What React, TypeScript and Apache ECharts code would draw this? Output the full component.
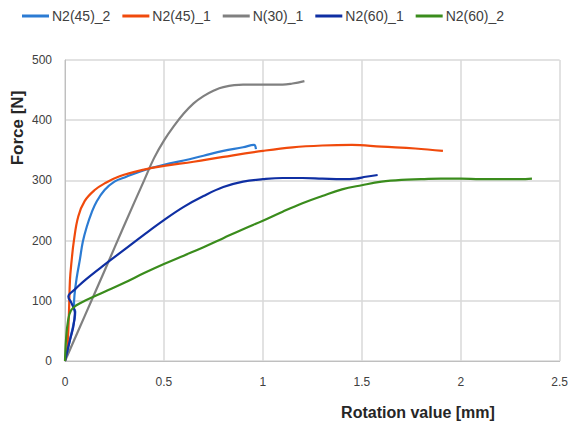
import React, { useEffect, useRef } from "react";
import * as echarts from "echarts";

const seriesNames = ["N2(45)_2", "N2(45)_1", "N(30)_1", "N2(60)_1", "N2(60)_2"];
const seriesColors = ["#2b7bd3", "#f04a0c", "#808080", "#0f2fa3", "#3a8c1c"];

const n245_2: number[][] = [
  [0, 0], [0.025, 35], [0.045, 65], [0.052, 82], [0.045, 88], [0.048, 110], [0.06, 140],
  [0.075, 168], [0.09, 198], [0.11, 223], [0.135, 247], [0.16, 265], [0.2, 284],
  [0.25, 298], [0.31, 306], [0.4, 317], [0.5, 326], [0.6, 333], [0.7, 341],
  [0.8, 349], [0.9, 355], [0.955, 359], [0.965, 352],
];
const n245_1: number[][] = [
  [0, 0], [0.012, 24], [0.02, 80], [0.025, 134], [0.033, 165], [0.045, 200], [0.067, 240],
  [0.1, 266], [0.15, 284], [0.2, 295], [0.276, 307], [0.4, 318], [0.5, 324], [0.65, 331],
  [0.8, 339], [1.0, 349], [1.15, 355], [1.3, 358], [1.45, 359], [1.6, 356],
  [1.77, 353], [1.91, 349],
];
const n30_1: number[][] = [
  [0, 0], [0.1, 75], [0.2, 150], [0.3, 226], [0.4, 300], [0.45, 337], [0.5, 366],
  [0.55, 390], [0.6, 411], [0.65, 428], [0.7, 440], [0.75, 449], [0.8, 455],
  [0.9, 459], [1.0, 459], [1.1, 459], [1.15, 461], [1.21, 465],
];
const n260_1: number[][] = [
  [0, 0], [0.025, 35], [0.042, 57], [0.05, 80], [0.033, 96], [0.017, 107], [0.025, 112],
  [0.05, 119], [0.1, 134], [0.2, 160], [0.3, 185], [0.4, 210], [0.5, 234],
  [0.6, 256], [0.7, 274], [0.8, 289], [0.9, 298], [1.0, 302], [1.1, 304],
  [1.2, 304], [1.3, 303], [1.4, 302], [1.47, 303], [1.52, 306], [1.58, 309],
];
const n260_2: number[][] = [
  [0, 0], [0.005, 35], [0.015, 66], [0.03, 84], [0.06, 93], [0.1, 100], [0.2, 115],
  [0.3, 130], [0.4, 146], [0.5, 161], [0.6, 175], [0.7, 189], [0.8, 204],
  [0.9, 219], [1.0, 233], [1.1, 248], [1.2, 262], [1.3, 274], [1.4, 285],
  [1.5, 292], [1.6, 298], [1.7, 301], [1.8, 302], [1.9, 303], [2.0, 303],
  [2.1, 302], [2.2, 302], [2.3, 302], [2.36, 303],
];
const seriesData = [n245_2, n245_1, n30_1, n260_1, n260_2];

const xTicks = { min: 0, max: 2.5, interval: 0.5 };
const yTicks = { min: 0, max: 500, interval: 100 };
const xTitle = "Rotation value [mm]";
const yTitle = "Force [N]";

const FONT = "'Liberation Sans', Arial, sans-serif";

export default function App() {
  const ref = useRef<HTMLDivElement>(null);
  useEffect(() => {
    if (!ref.current) return;
    const chart = echarts.init(ref.current, undefined, { renderer: "svg" });
    chart.setOption({
      animation: false,
      backgroundColor: "#ffffff",
      textStyle: { fontFamily: FONT },
      legend: {
        top: 9,
        left: 22,
        padding: 0,
        itemGap: 12,
        itemWidth: 27,
        itemHeight: 3,
        icon: "rect",
        textStyle: { fontSize: 14, color: "#404040", fontFamily: FONT, padding: [0, 0, 0, -2] },
        data: seriesNames,
      },
      grid: { left: 65, right: 8, top: 60, bottom: 64 },
      xAxis: {
        type: "value",
        min: xTicks.min,
        max: xTicks.max,
        interval: xTicks.interval,
        axisLine: { show: true, lineStyle: { color: "#bfbfbf" } },
        axisTick: { show: false },
        splitLine: { show: true, lineStyle: { color: "#d9d9d9", width: 1.5 } },
        axisLabel: { color: "#404040", fontSize: 12, margin: 15, fontFamily: FONT },
      },
      yAxis: {
        type: "value",
        min: yTicks.min,
        max: yTicks.max,
        interval: yTicks.interval,
        axisLine: { show: true, lineStyle: { color: "#bfbfbf" } },
        axisTick: { show: false },
        splitLine: { show: true, lineStyle: { color: "#d9d9d9", width: 1.5 } },
        axisLabel: { color: "#404040", fontSize: 12, margin: 13, fontFamily: FONT },
      },
      graphic: [
        {
          type: "text",
          x: 418,
          y: 412,
          style: {
            text: xTitle,
            font: `bold 16px ${FONT}`,
            fill: "#262626",
            textAlign: "center",
            textVerticalAlign: "middle",
          },
        },
        {
          type: "text",
          x: 17,
          y: 128,
          rotation: Math.PI / 2,
          style: {
            text: yTitle,
            font: `bold 17px ${FONT}`,
            fill: "#262626",
            textAlign: "center",
            textVerticalAlign: "middle",
          },
        },
      ],
      series: seriesNames.map((name, i) => ({
        name,
        type: "line",
        data: seriesData[i],
        showSymbol: false,
        smooth: 0.4,
        color: seriesColors[i],
        lineStyle: { width: 2.2, color: seriesColors[i] },
        z: i === 2 ? 1 : 2,
      })),
    });
    return () => chart.dispose();
  }, []);
  return <div ref={ref} style={{ width: 571, height: 425, position: "absolute", left: 0, top: 0 }} />;
}
